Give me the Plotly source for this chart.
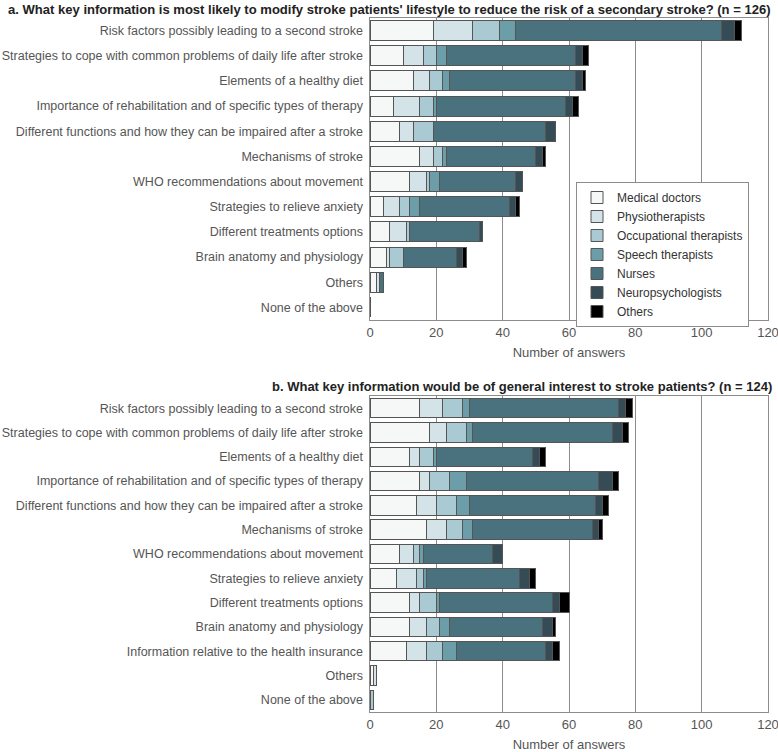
import plotly.graph_objects as go
from plotly.subplots import make_subplots

groups = ["Medical doctors", "Physiotherapists", "Occupational therapists",
          "Speech therapists", "Nurses", "Neuropsychologists", "Others"]
colors = ["#f6f8f8", "#d3e3e8", "#a9cad3", "#6b9ea9", "#4a717e", "#354b55", "#000000"]

cats_a = ["Risk factors possibly leading to a second stroke",
          "Strategies to cope with common problems of daily life after stroke",
          "Elements of a healthy diet",
          "Importance of rehabilitation and of specific types of therapy",
          "Different functions and how they can be impaired after a stroke",
          "Mechanisms of stroke",
          "WHO recommendations about movement",
          "Strategies to relieve anxiety",
          "Different treatments options",
          "Brain anatomy and physiology",
          "Others",
          "None of the above"]
md_a = [19, 10, 13, 7, 9, 15, 12, 4, 6, 5, 2, 0]
physio_a = [12, 6, 5, 8, 4, 4, 5, 5, 5, 1, 1, 0]
ot_a = [8, 4, 4, 4, 6, 3, 1, 3, 1, 4, 0, 0]
speech_a = [5, 3, 2, 1, 0, 1, 3, 3, 0, 0, 0, 0]
nurses_a = [62, 39, 38, 39, 34, 27, 23, 27, 21, 16, 1, 0]
neuro_a = [4, 2, 2, 2, 3, 2, 2, 2, 1, 2, 0, 0]
others_a = [2, 2, 1, 2, 0, 1, 0, 1, 0, 1, 0, 0]

cats_b = ["Risk factors possibly leading to a second stroke",
          "Strategies to cope with common problems of daily life after stroke",
          "Elements of a healthy diet",
          "Importance of rehabilitation and of specific types of therapy",
          "Different functions and how they can be impaired after a stroke",
          "Mechanisms of stroke",
          "WHO recommendations about movement",
          "Strategies to relieve anxiety",
          "Different treatments options",
          "Brain anatomy and physiology",
          "Information relative to the health insurance",
          "Others",
          "None of the above"]
md_b = [15, 18, 12, 15, 14, 17, 9, 8, 12, 12, 11, 1, 0]
physio_b = [7, 5, 3, 3, 6, 6, 4, 6, 3, 5, 6, 1, 0]
ot_b = [6, 6, 4, 6, 6, 5, 2, 2, 5, 4, 5, 0, 1]
speech_b = [2, 2, 1, 5, 4, 3, 1, 1, 1, 3, 4, 0, 0]
nurses_b = [45, 42, 29, 40, 38, 36, 21, 28, 34, 28, 27, 0, 0]
neuro_b = [2, 3, 2, 4, 2, 2, 3, 3, 2, 3, 2, 0, 0]
others_b = [2, 2, 2, 2, 2, 1, 0, 2, 3, 1, 2, 0, 0]

title_a = "a. What key information is most likely to modify stroke patients' lifestyle to reduce the risk of a secondary stroke? (n = 126)"
title_b = "b. What key information would be of general interest to stroke patients? (n = 124)"
x_title = "Number of answers"
x_ticks = [0, 20, 40, 60, 80, 100, 120]

series_a = [md_a, physio_a, ot_a, speech_a, nurses_a, neuro_a, others_a]
series_b = [md_b, physio_b, ot_b, speech_b, nurses_b, neuro_b, others_b]

W, H = 778, 752
fig = make_subplots(rows=2, cols=1)

for i, g in enumerate(groups):
    fig.add_trace(go.Bar(y=cats_a, x=series_a[i], name=g, orientation="h",
                         marker=dict(color=colors[i], line=dict(color="#555555", width=1)),
                         showlegend=True), row=1, col=1)
    fig.add_trace(go.Bar(y=cats_b, x=series_b[i], name=g, orientation="h",
                         marker=dict(color=colors[i], line=dict(color="#555555", width=1)),
                         showlegend=False), row=2, col=1)

def px_dom(top, bottom):
    return [1 - bottom / H, 1 - top / H]

xcommon = dict(range=[0, 120], tickvals=x_ticks, showgrid=True, gridcolor="#8c8c8c",
               gridwidth=1, zeroline=False, showline=True, linecolor="#8c8c8c", mirror=True,
               ticks="", tickfont=dict(size=13, color="#555555"), automargin=False,
               ticklabeloverflow="allow",
               title=dict(text=x_title, font=dict(size=13, color="#555555"), standoff=9),
               domain=[370 / W, 768 / W])
ycommon = dict(autorange="reversed", showgrid=False, showline=True, linecolor="#8c8c8c",
               mirror=True, ticks="", tickfont=dict(size=12.5, color="#555555"),
               ticksuffix=" ", automargin=False)

fig.update_xaxes(**xcommon, row=1, col=1)
fig.update_xaxes(**xcommon, row=2, col=1)
fig.update_yaxes(**ycommon, domain=px_dom(18, 320), row=1, col=1)
fig.update_yaxes(**ycommon, domain=px_dom(396, 712), row=2, col=1)

fig.add_annotation(text="<b>" + title_a + "</b>", x=389.5 / W, y=1 - 9 / H, xref="paper", yref="paper",
                   xanchor="center", yanchor="middle", showarrow=False,
                   font=dict(size=13.05, color="#222222", family="Liberation Sans"))
fig.add_annotation(text="<b>" + title_b + "</b>", x=774 / W, y=1 - 386 / H, xref="paper", yref="paper",
                   xanchor="right", yanchor="middle", showarrow=False,
                   font=dict(size=13, color="#222222", family="Liberation Sans"))

fig.update_layout(
    width=W, height=H, barmode="stack", bargap=0.2,
    margin=dict(l=0, r=0, t=0, b=0, autoexpand=False),
    plot_bgcolor="white", paper_bgcolor="white",
    font=dict(family="Liberation Sans", size=13, color="#555555"),
    legend=dict(x=576 / W, y=1 - 182 / H, xanchor="left", yanchor="top",
                bordercolor="#8c8c8c", borderwidth=1, bgcolor="white",
                font=dict(size=12, color="#333333"), tracegroupgap=0,
                traceorder="normal", itemwidth=30),
)

fig.write_html("out.html", config={"displayModeBar": False},
               post_script="document.body.style.margin='0';")
